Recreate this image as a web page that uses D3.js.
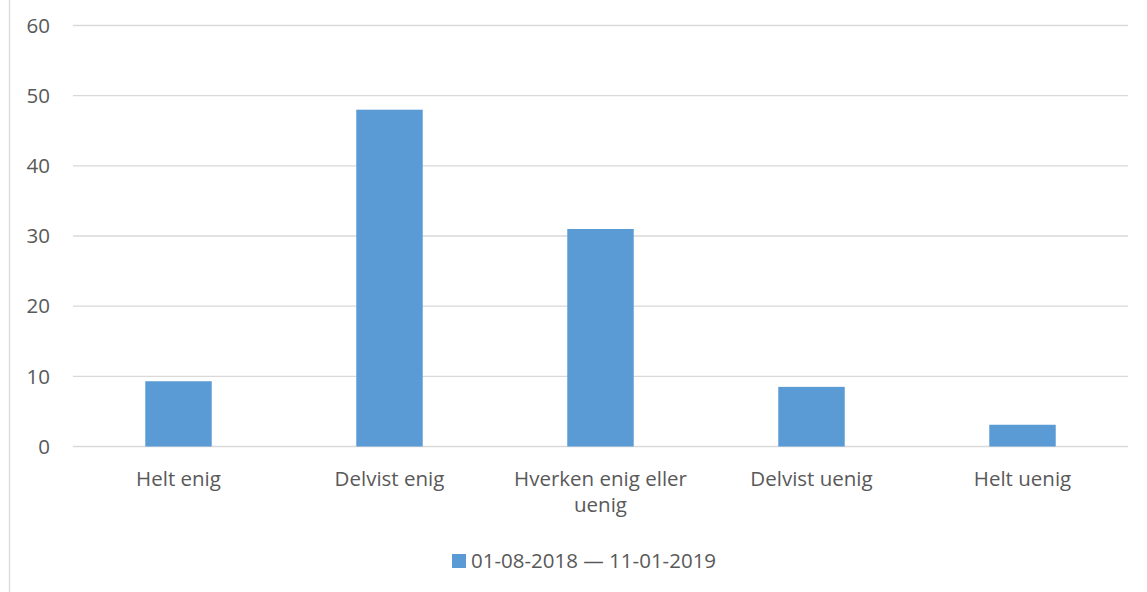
<!DOCTYPE html>
<html><head><meta charset="utf-8">
<script src="https://cdn.jsdelivr.net/npm/d3@7/dist/d3.min.js"></script>
<style>body{margin:0;background:#fff}svg{display:block}text{font-family:"Open Sans",sans-serif;fill:#595959}</style>
</head><body><svg id="c" width="1147" height="592"></svg>
<script>
const categories = ["Helt enig", "Delvist enig", "Hverken enig eller uenig", "Delvist uenig", "Helt uenig"];
const categoryLines = [["Helt enig"], ["Delvist enig"], ["Hverken enig eller", "uenig"], ["Delvist uenig"], ["Helt uenig"]];
const values = [9.3, 48, 31, 8.5, 3.1];
const yTicks = [0, 10, 20, 30, 40, 50, 60];
const seriesName = "01-08-2018 — 11-01-2019";

const svg = d3.select("#c");
const W = 1147, H = 592;
const m = {left: 73, right: 19, top: 25.5, bottom: 145.5};
const x = d3.scaleBand().domain(categories).range([m.left, W - m.right]).padding(0);
const y = d3.scaleLinear().domain([0, 60]).range([H - m.bottom, m.top]);

// outer border
svg.append("rect").attr("x", 9.5).attr("y", -5).attr("width", W + 10).attr("height", H + 10)
  .attr("fill", "none").attr("stroke", "#d9d9d9").attr("stroke-width", 1.3);

// gridlines
svg.append("g").selectAll("line").data(yTicks).join("line")
  .attr("x1", m.left).attr("x2", W - m.right)
  .attr("y1", d => y(d)).attr("y2", d => y(d))
  .attr("stroke", "#d9d9d9").attr("stroke-width", 1.3);

// y labels
svg.append("g").selectAll("text").data(yTicks).join("text")
  .attr("x", 50).attr("y", d => y(d)).attr("dy", "0.35em")
  .attr("text-anchor", "end").style("font-size", "20.5px").text(d => d);

// bars
const bw = x.bandwidth() * 0.315;
svg.append("g").selectAll("rect").data(values).join("rect")
  .attr("x", (d, i) => x(categories[i]) + x.bandwidth() / 2 - bw / 2)
  .attr("width", bw)
  .attr("y", d => y(d)).attr("height", d => y(0) - y(d))
  .attr("fill", "#5b9bd5");

// x labels
const xl = svg.append("g").selectAll("g").data(categories).join("g")
  .attr("transform", d => `translate(${x(d) + x.bandwidth() / 2},${y(0) + 39.5})`);
xl.each(function(d, i) {
  d3.select(this).selectAll("text").data(categoryLines[i]).join("text")
    .attr("text-anchor", "middle").style("font-size", "20.5px")
    .attr("x", 0).attr("y", (t, j) => j * 26).text(t => t);
});

// legend
const lg = svg.append("g");
lg.append("rect").attr("x", 452).attr("y", 554).attr("width", 14).attr("height", 14).attr("fill", "#5b9bd5");
lg.append("text").attr("x", 471).attr("y", 561).attr("dy", "0.35em").style("font-size", "20.5px").text(seriesName);
</script></body></html>
